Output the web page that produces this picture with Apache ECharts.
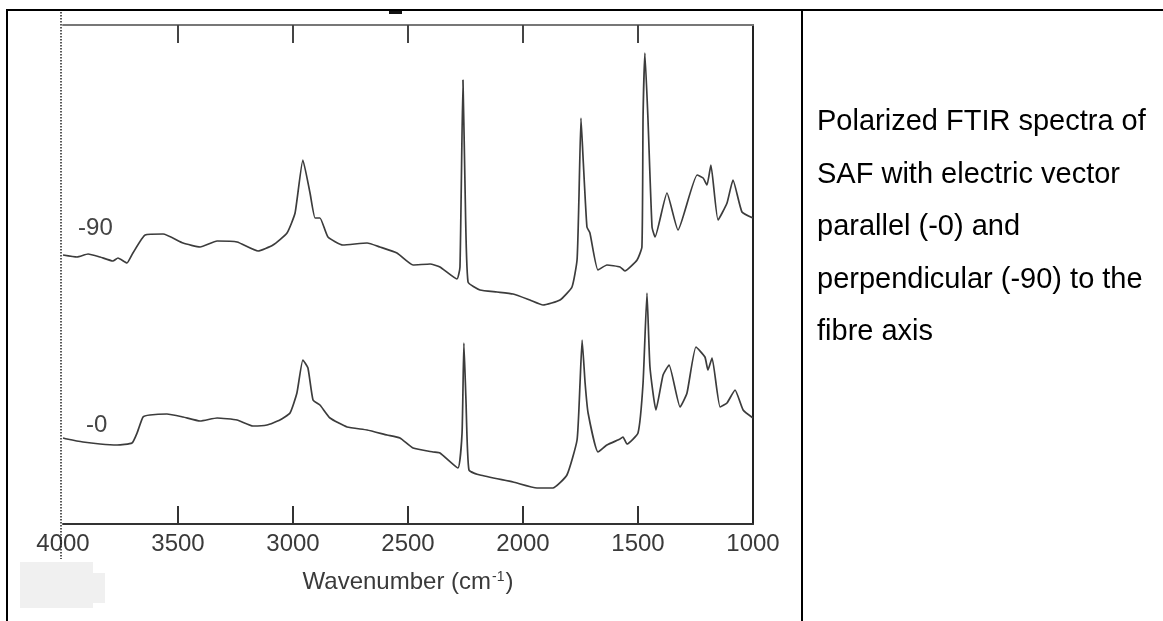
<!DOCTYPE html>
<html>
<head>
<meta charset="utf-8">
<script src="https://cdn.jsdelivr.net/npm/echarts@6/dist/echarts.min.js"></script>
<style>
  html, body { margin: 0; padding: 0; background: #fff; }
  #main { width: 1163px; height: 621px; }
</style>
</head>
<body>
<div id="main"></div>
<script>
// spectrum -90 (perpendicular), wavenumber in cm-1, absorbance in arbitrary units
var wn90 = [4000, 3939, 3891, 3839, 3783, 3761, 3722, 3696, 3643, 3565, 3478, 3404, 3330, 3243, 3152, 3087,
    3026, 2991, 2957, 2926, 2904, 2883, 2848, 2783, 2678, 2622, 2548, 2478, 2404, 2361, 2287, 2274, 2261,
    2252, 2239, 2187, 2113, 2043, 1970, 1913, 1839, 1787, 1765, 1757, 1748, 1739, 1722, 1709, 1674, 1635,
    1578, 1557, 1504, 1483, 1478, 1470, 1457, 1439, 1426, 1374, 1326, 1243, 1217, 1200, 1183, 1152, 1113,
    1087, 1048, 1000];
var abs90 = [269, 267, 270, 267, 263, 266, 261, 271, 289, 290, 281, 277, 283, 282, 273, 279,
    291, 311, 364, 331, 306, 306, 287, 279, 281, 277, 271, 259, 260, 257, 245, 257, 444,
    337, 242, 234, 232, 230, 224, 219, 224, 237, 264, 324, 406, 367, 297, 291, 254, 259,
    257, 253, 264, 277, 407, 471, 407, 297, 287, 331, 294, 349, 346, 339, 359, 304, 321,
    344, 312, 306];

// spectrum -0 (parallel)
var wn0 = [4000, 3983, 3913, 3839, 3765, 3700, 3678, 3652, 3622, 3548, 3478, 3404, 3330, 3243, 3174, 3113,
    3057, 3013, 2983, 2957, 2935, 2913, 2883, 2839, 2765, 2678, 2591, 2535, 2478, 2391, 2361, 2283, 2265,
    2257, 2248, 2235, 2187, 2043, 1939, 1870, 1809, 1765, 1752, 1743, 1730, 1717, 1674, 1635, 1578, 1565,
    1548, 1500, 1478, 1461, 1448, 1422, 1391, 1365, 1317, 1287, 1248, 1209, 1196, 1178, 1143, 1113, 1078,
    1043, 1000];
var abs0 = [86, 85, 82, 80, 79, 81, 91, 107, 109, 110, 107, 103, 106, 104, 98, 99,
    104, 111, 131, 164, 156, 124, 119, 106, 97, 94, 89, 86, 76, 72, 71, 56, 91,
    181, 124, 54, 49, 42, 36, 36, 49, 84, 141, 184, 141, 111, 72, 79, 85, 87,
    80, 91, 141, 231, 157, 114, 149, 159, 117, 131, 177, 167, 154, 166, 117, 121, 134,
    114, 106];

var curveNames = ['-90', '-0'];
var labelAt = [[3859, 296], [3854, 99]];

// inner tick marks (the plot edges carry none)
var tickValues = [3500, 3000, 2500, 2000, 1500];
var labelValues = [4000, 3500, 3000, 2500, 2000, 1500, 1000];

var captionLines = [
    'Polarized FTIR spectra of',
    'SAF with electric vector',
    'parallel (-0) and',
    'perpendicular (-90) to the',
    'fibre axis'
];

function pairs(xs, ys) {
    var out = [];
    for (var i = 0; i < xs.length; i++) out.push([xs[i], ys[i]]);
    return out;
}

var chart = echarts.init(document.getElementById('main'));
var inkColor = '#3a3a3a';
var font = 'Liberation Sans';

function spectrum(name, data, at) {
    return {
        name: name,
        type: 'line',
        data: data,
        showSymbol: false,
        smooth: 0.15,
        lineStyle: { color: '#3c3c3c', width: 1.7 },
        markPoint: {
            symbol: 'circle',
            symbolSize: 0,
            label: {
                show: true, position: 'inside', formatter: name,
                fontSize: 24, color: '#444', fontFamily: font
            },
            data: [{ coord: at }]
        }
    };
}

var option = {
    backgroundColor: '#fff',
    animation: false,
    grid: { left: 63, right: 410, top: 25, bottom: 97 },
    xAxis: [
        {
            type: 'value', inverse: true, min: 1000, max: 4000, interval: 500,
            position: 'bottom',
            axisLine: { onZero: false, lineStyle: { color: '#333', width: 2 } },
            axisTick: { inside: true, length: 18, customValues: tickValues, lineStyle: { color: '#333', width: 2 } },
            axisLabel: {
                fontSize: 24, color: inkColor, margin: 8, fontFamily: font,
                customValues: labelValues,
                formatter: function (v) { return String(v); }
            },
            splitLine: { show: false },
            name: '{a|Wavenumber (cm}{s|-1}{a|)}',
            nameLocation: 'middle',
            nameGap: 46,
            nameTextStyle: {
                fontFamily: font,
                rich: {
                    a: { fontSize: 24, color: inkColor, fontFamily: font },
                    s: { fontSize: 14, color: inkColor, fontFamily: font, verticalAlign: 'top', padding: [0, 1, 0, 1] }
                }
            }
        },
        {
            type: 'value', inverse: true, min: 1000, max: 4000, interval: 500,
            position: 'top',
            axisLine: { onZero: false, lineStyle: { color: '#777', width: 2 } },
            axisTick: { inside: true, length: 18, customValues: tickValues, lineStyle: { color: '#444', width: 2 } },
            axisLabel: { show: false },
            splitLine: { show: false }
        }
    ],
    yAxis: [
        { type: 'value', min: 0, max: 499, show: false },
        {
            type: 'value', min: 0, max: 499, position: 'right',
            axisLine: { show: true, onZero: false, lineStyle: { color: '#222', width: 2 } },
            axisTick: { show: false }, axisLabel: { show: false }, splitLine: { show: false }
        }
    ],
    series: [
        spectrum(curveNames[0], pairs(wn90, abs90), labelAt[0]),
        spectrum(curveNames[1], pairs(wn0, abs0), labelAt[1])
    ],
    graphic: [
        // table borders
        { type: 'line', shape: { x1: 6, y1: 10, x2: 1163, y2: 10 }, style: { stroke: '#000', lineWidth: 2 } },
        { type: 'line', shape: { x1: 7, y1: 9, x2: 7, y2: 621 }, style: { stroke: '#000', lineWidth: 2 } },
        { type: 'line', shape: { x1: 802, y1: 9, x2: 802, y2: 621 }, style: { stroke: '#000', lineWidth: 2 } },
        { type: 'rect', shape: { x: 389, y: 11, width: 13, height: 3 }, style: { fill: '#111' } },
        // dotted left edge of the plot
        { type: 'line', shape: { x1: 61, y1: 12, x2: 61, y2: 559 }, style: { stroke: '#222', lineWidth: 1.5, lineDash: [1.5, 1.5] }, z: 10 },
        // grey patch under the axis
        { type: 'rect', shape: { x: 20, y: 562, width: 73, height: 46 }, style: { fill: '#f0f0f0' } },
        { type: 'rect', shape: { x: 20, y: 573, width: 85, height: 30 }, style: { fill: '#f0f0f0' } },
        // caption
        {
            type: 'text', left: 817, top: 96,
            style: {
                text: captionLines.join('\n'),
                fontSize: 29, fontFamily: font, fill: '#000', lineHeight: 52.5
            }
        }
    ]
};

chart.setOption(option);
</script>
</body>
</html>
